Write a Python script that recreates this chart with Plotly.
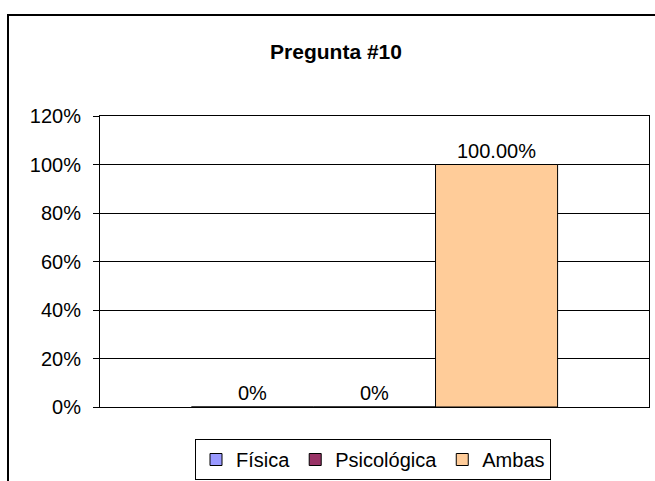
import plotly.graph_objects as go

# Data
series = ['Física', 'Psicológica', 'Ambas']
values = [0.0, 0.0, 1.0]
labels = ['0%', '0%', '100.00%']
colors = ['#9999FF', '#993366', '#FFCC99']
category = ['Pregunta #10']

font_family = 'Liberation Sans, Arial'

fig = go.Figure()
for name, val, lab, col in zip(series, values, labels, colors):
	fig.add_trace(
		go.Bar(
			name=name,
			x=category,
			y=[val],
			text=[lab],
			textposition='outside',
			cliponaxis=False,
			textfont={'family': font_family, 'size': 20, 'color': 'black'},
			marker={'color': col, 'line': {'color': 'black', 'width': 1}},
		)
	)

fig.update_xaxes(
	showticklabels=False,
	showgrid=False,
	zeroline=False,
	showline=True, linecolor='black', linewidth=1,
	mirror=True,
)
fig.update_yaxes(
	range=[0, 1.2],
	dtick=0.2,
	tickformat='.0%',
	showgrid=True, gridcolor='black', gridwidth=1,
	zeroline=False,
	showline=True, linecolor='black', linewidth=1,
	mirror=True,
	ticks='outside', ticklen=6, tickcolor='black',
	ticklabelstandoff=8,
	tickfont={'family': font_family, 'size': 20, 'color': 'black'},
)

fig.update_layout(
	width=655, height=481,
	paper_bgcolor='white',
	plot_bgcolor='white',
	barmode='group',
	bargap=0.333,
	bargroupgap=0,
	margin=dict(l=100, r=6, t=116, b=74),
	title={
		'text': '<b>Pregunta #10</b>',
		'x': 336 / 655, 'xanchor': 'center',
		'y': 1 - 52 / 481, 'yanchor': 'middle',
		'font': {'family': font_family, 'size': 21, 'color': 'black'},
	},
	legend={
		'orientation': 'h',
		'x': (373 - 100) / 549, 'xanchor': 'center',
		'yref': 'container',
		'y': 1 - 480 / 481, 'yanchor': 'bottom',
		'bordercolor': 'black', 'borderwidth': 1,
		'font': {'family': font_family, 'size': 20, 'color': 'black'},
		'itemwidth': 30,
		'tracegroupgap': 0,
	},
	shapes=[
		# outer chart-area border
		dict(type='rect', xref='paper', yref='paper',
			 x0=(8 - 100) / 549, x1=1.1, y0=-0.5, y1=(407 - 15) / 291,
			 line={'color': 'black', 'width': 2}, layer='below'),
	],
)

fig.write_html(
	"out.html",
	config={'displayModeBar': False},
	post_script="document.body.style.margin='0';document.body.style.overflow='hidden';",
)
